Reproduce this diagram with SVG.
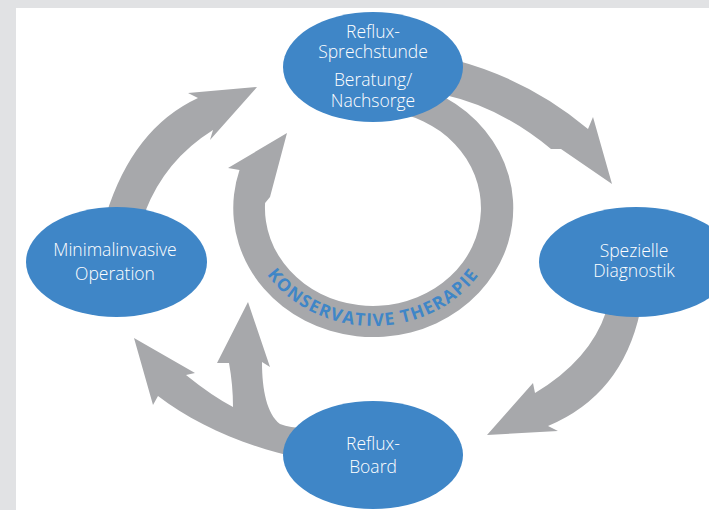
<svg xmlns="http://www.w3.org/2000/svg" width="709" height="510" viewBox="0 0 709 510">
  <style>
    .arrow { fill: #a7a8ab; stroke: none; }
    .node ellipse { fill: #3f86c7; }
    .node text { fill: #ffffff; font-family: "Open Sans", "Noto Sans", "Liberation Sans", sans-serif; font-size: 17.5px; font-weight: 300; text-anchor: middle; }
    .ring-label { fill: #3f86c7; font-family: "Open Sans", "Noto Sans", "Liberation Sans", sans-serif; font-size: 17.5px; font-weight: 700; letter-spacing: 1.2px; }
  </style>
  <defs>
    <path id="ringBaseline" d="M 244.5 208 A 128.5 118 0 0 0 501.5 208"/>
  </defs>

  <!-- frame -->
  <rect x="0" y="0" width="709" height="510" fill="#e1e2e4"/>
  <rect x="16" y="8" width="693" height="502" fill="#ffffff"/>

  <g id="connectors">
    <!-- Sprechstunde -> Spezielle Diagnostik -->
    <path class="arrow" d="M 455 60 Q 530 80 588 129 L 593 117 L 612 184 L 561 149 L 551 149 Q 500 107 445 95 Z"/>
    <!-- Spezielle Diagnostik -> Reflux-Board -->
    <path class="arrow" d="M 640 312 Q 622 395 548 426 L 558 431 L 487 435 L 533 383 L 535 393 Q 590 360 606 312 Z"/>
    <!-- Reflux-Board -> Minimalinvasive Operation, with branch to the therapy ring -->
    <path class="arrow" d="M 300 458 C 250 448 195 425 158 396 L 153 405 L 134 338 L 195 373 L 186 375 Q 212 396 233 407 Q 233 385 229 363 L 217 363 L 248 302 L 270 367 L 262 362 C 262 390 267 414 280 424 Q 290 428 305 428 Z"/>
    <!-- Minimalinvasive Operation -> Sprechstunde -->
    <path class="arrow" d="M 106 215 Q 133 128 198 98 L 188 93 L 257 87 L 210 140 L 213 130 Q 165 160 145 212 Z"/>
    <!-- conservative therapy ring -->
    <path class="arrow" d="M 420 86.5 A 140 129 0 1 1 239.5 170 L 228 168 L 287 133 L 270 197 L 265.1 203 A 108 98 0 1 0 405 114.4 Z"/>
    <text class="ring-label"><textPath href="#ringBaseline" startOffset="50%" text-anchor="middle">KONSERVATIVE THERAPIE</textPath></text>
  </g>

  <g id="sprechstunde" class="node">
    <ellipse cx="373" cy="67" rx="90" ry="55"/>
    <text x="373" y="37.5">Reflux-</text>
    <text x="373" y="57.5">Sprechstunde</text>
    <text x="373" y="86">Beratung/</text>
    <text x="373" y="106.5">Nachsorge</text>
  </g>

  <g id="diagnostik" class="node">
    <ellipse cx="636" cy="262" rx="97" ry="55"/>
    <text x="634" y="257">Spezielle</text>
    <text x="634" y="277">Diagnostik</text>
  </g>

  <g id="board" class="node">
    <ellipse cx="373" cy="455" rx="90" ry="54"/>
    <text x="373" y="450">Reflux-</text>
    <text x="373" y="473">Board</text>
  </g>

  <g id="operation" class="node">
    <ellipse cx="116.5" cy="262" rx="90.5" ry="55"/>
    <text x="115" y="256">Minimalinvasive</text>
    <text x="115" y="280">Operation</text>
  </g>
</svg>
